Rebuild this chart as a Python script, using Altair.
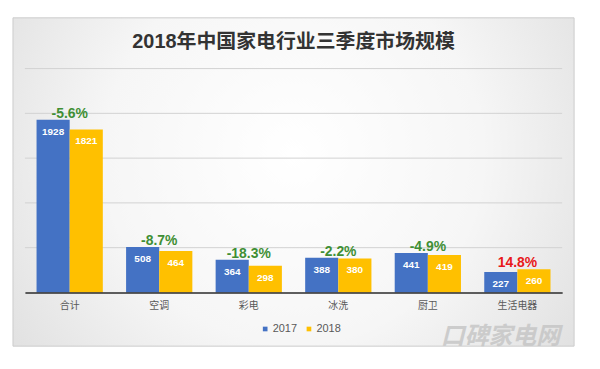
import altair as alt
import pandas as pd

title_text = "2018年中国家电行业三季度市场规模"
categories = ["合计", "空调", "彩电", "冰洗", "厨卫", "生活电器"]
v2017 = [1928, 508, 364, 388, 441, 227]
v2018 = [1821, 464, 298, 380, 419, 260]
pct = ["-5.6%", "-8.7%", "-18.3%", "-2.2%", "-4.9%", "14.8%"]
years = ["2017", "2018"]
colors = ["#4472C4", "#FFC000"]
grid_values = [500, 1000, 1500, 2000, 2500]
watermark = "口碑家电网"

long_rows = []
for c, a, b in zip(categories, v2017, v2018):
    long_rows.append({"cat": c, "year": "2017", "value": a})
    long_rows.append({"cat": c, "year": "2018", "value": b})
long_df = pd.DataFrame(long_rows)

wide_df = pd.DataFrame({
    "cat": categories,
    "top": [max(a, b) for a, b in zip(v2017, v2018)],
    "pct": pct,
    "up": [not p.startswith("-") for p in pct],
})

FONT = "Liberation Sans, Noto Sans CJK SC, sans-serif"
CJK = "Noto Sans CJK SC, sans-serif"

yscale = alt.Scale(domain=[0, 2500], nice=False)

xenc = alt.X("cat:N", sort=categories, title=None,
             scale=alt.Scale(paddingInner=0.26, paddingOuter=0.13),
             axis=alt.Axis(labelAngle=0, ticks=False, domainColor="#2b2b2b",
                           domainWidth=1.5, labelColor="#595959", labelFontSize=10,
                           labelFont=CJK, labelPadding=8, grid=False, zindex=2))

bg = alt.Chart(pd.DataFrame({"a": [0]})).mark_rect(
    color=alt.RadialGradient(
        gradient="radial", x1=0.5, y1=0.45, r1=0, x2=0.5, y2=0.45, r2=0.75,
        stops=[alt.GradientStop(offset=0, color="#ffffff"),
               alt.GradientStop(offset=0.45, color="#f6f6f6"),
               alt.GradientStop(offset=1, color="#d6d6d6")]),
    stroke="#cccccc", strokeWidth=1,
).encode(x=alt.value(-12), x2=alt.value(552), y=alt.value(-51), y2=alt.value(279))

title = alt.Chart(pd.DataFrame({"t": [title_text]})).mark_text(
    font=FONT, fontSize=20, fontWeight="bold", color="#333333",
    align="center", baseline="middle"
).encode(x=alt.value(270), y=alt.value(-27), text="t:N")

grid = alt.Chart(pd.DataFrame({"g": grid_values})).mark_rule(
    color="#d2d2d2", strokeWidth=1
).encode(y=alt.Y("g:Q", scale=yscale, axis=None), x=alt.value(0), x2=alt.value(540))

bars = alt.Chart(long_df).mark_bar().encode(
    x=xenc,
    xOffset=alt.XOffset("year:N", sort=years),
    y=alt.Y("value:Q", title=None, scale=yscale, axis=None),
    color=alt.Color("year:N", sort=years,
                    scale=alt.Scale(domain=years, range=colors),
                    legend=alt.Legend(title=None, orient="none", legendX=236, legendY=256,
                                      direction="horizontal", symbolType="square",
                                      symbolSize=22, symbolStrokeWidth=0,
                                      labelFontSize=11, labelColor="#595959",
                                      labelFont=FONT, labelOffset=2, columnPadding=6)),
)

vals = alt.Chart(long_df).mark_text(
    baseline="top", dy=7, color="white", fontWeight="bold", fontSize=10, font=FONT
).encode(
    x=alt.X("cat:N", sort=categories),
    xOffset=alt.XOffset("year:N", sort=years),
    y=alt.Y("value:Q", scale=yscale),
    text=alt.Text("value:Q"),
)

pcts = alt.Chart(wide_df).mark_text(
    baseline="alphabetic", dy=-2, fontWeight="bold", fontSize=14, font=FONT
).encode(
    x=alt.X("cat:N", sort=categories),
    y=alt.Y("top:Q", scale=yscale),
    text="pct:N",
    color=alt.condition("datum.up", alt.value("#e8191a"), alt.value("#3f8f35")),
)

wm = alt.Chart(pd.DataFrame({"t": [watermark]})).mark_text(
    font=CJK, fontSize=24, fontStyle="italic", fontWeight="bold",
    color="#c4c4c4", opacity=0.8, align="left", baseline="middle"
).encode(x=alt.value(418), y=alt.value(270), text="t:N")

chart = alt.layer(bg, title, grid, bars, vals, pcts, wm).properties(
    width=540, height=225,
    autosize=alt.AutoSizeParams(type="none"),
    padding={"left": 17, "top": 60, "right": 30, "bottom": 62},
).configure_view(stroke=None).configure(background="white")

chart.save("out.html", embed_options={"renderer": "svg", "actions": False})
